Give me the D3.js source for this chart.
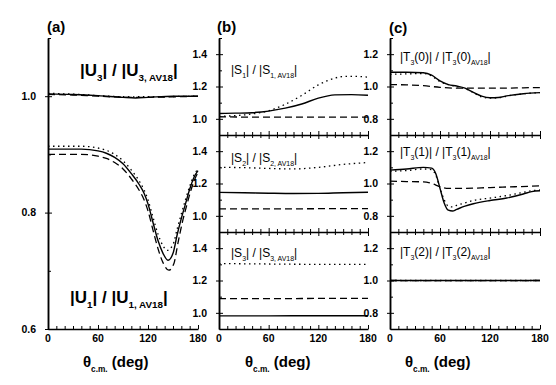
<!DOCTYPE html>
<html>
<head>
<meta charset="utf-8">
<script src="https://cdn.jsdelivr.net/npm/d3@7"></script>
<style>
  body { margin: 0; background: #fff; }
  text { font-family: "Liberation Sans", Arial, sans-serif; fill: #000; }
</style>
</head>
<body>
<div id="chart"></div>
<script>
// ---- data: [theta (deg), ratio] ----
var u3Solid = [[0,1.004],[30,1.003],[60,1.001],[90,0.998],[105,0.997],[120,0.998],[150,1.0],[180,1.0]];
var u3Dot   = [[0,1.005],[20,1.004],[40,1.003],[60,1.001],[100,0.999],[180,1.0]];
var u3Dash  = [[0,1.003],[30,1.002],[60,1.0],[100,0.998],[180,1.0]];

var u1Solid = [[0,0.909],[40,0.909],[60,0.906],[70,0.902],[80,0.895],[90,0.884],[100,0.867],[110,0.847],[115,0.834],[120,0.815],[126,0.783],[132,0.752],[138,0.730],[144,0.718],[150,0.730],[155,0.762],[160,0.790],[165,0.815],[170,0.840],[175,0.860],[180,0.872]];
var u1Dot   = [[0,0.914],[40,0.914],[60,0.911],[70,0.907],[80,0.900],[90,0.889],[100,0.873],[110,0.853],[115,0.840],[120,0.822],[126,0.792],[132,0.763],[138,0.743],[143,0.735],[150,0.745],[155,0.772],[160,0.798],[165,0.822],[170,0.845],[175,0.864],[180,0.875]];
var u1Dash  = [[0,0.900],[40,0.900],[60,0.897],[70,0.893],[80,0.886],[90,0.875],[100,0.858],[110,0.837],[115,0.823],[120,0.803],[126,0.770],[132,0.738],[138,0.714],[145,0.701],[151,0.712],[156,0.748],[161,0.782],[166,0.810],[171,0.836],[176,0.857],[180,0.869]];

var s1Solid = [[0,1.033],[20,1.035],[40,1.038],[60,1.048],[80,1.066],[100,1.092],[120,1.128],[140,1.148],[160,1.150],[180,1.146]];
var s1Dot   = [[0,1.015],[20,1.020],[40,1.030],[60,1.050],[80,1.090],[100,1.145],[120,1.210],[140,1.252],[150,1.262],[160,1.263],[180,1.258]];
var s1Dash  = [[0,1.013],[30,1.011],[60,1.010],[120,1.010],[180,1.010]];

var s2Solid = [[0,1.145],[30,1.143],[60,1.140],[90,1.138],[120,1.139],[150,1.143],[180,1.146]];
var s2Dot   = [[0,1.300],[30,1.298],[60,1.293],[90,1.290],[120,1.300],[150,1.318],[180,1.330]];
var s2Dash  = [[0,1.043],[60,1.043],[120,1.044],[180,1.045]];

var s3Solid = [[0,0.981],[60,0.981],[120,0.982],[180,0.982]];
var s3Dot   = [[0,1.305],[60,1.302],[120,1.300],[180,1.300]];
var s3Dash  = [[0,1.088],[60,1.088],[120,1.089],[180,1.090]];

var t0Solid = [[0,1.088],[20,1.088],[40,1.085],[50,1.070],[60,1.035],[70,1.012],[80,1.003],[90,0.990],[100,0.963],[110,0.940],[120,0.930],[130,0.932],[140,0.942],[160,0.955],[180,0.962]];
var t0Dot   = [[0,1.075],[20,1.078],[40,1.080],[50,1.065],[60,1.030],[70,1.012],[80,1.000],[90,0.988],[100,0.962],[110,0.935],[120,0.928],[130,0.930],[140,0.940],[160,0.955],[180,0.962]];
var t0Dash  = [[0,1.012],[20,1.010],[40,1.005],[60,0.995],[80,0.990],[100,0.990],[120,0.990],[140,0.990],[160,0.992],[180,0.993]];

var t1Solid = [[0,1.083],[20,1.090],[40,1.100],[50,1.095],[55,1.060],[60,0.970],[65,0.880],[70,0.835],[75,0.830],[80,0.840],[90,0.860],[100,0.875],[120,0.895],[140,0.910],[160,0.935],[170,0.950],[180,0.955]];
var t1Dot   = [[0,1.075],[20,1.080],[40,1.090],[50,1.085],[55,1.050],[60,0.970],[65,0.900],[70,0.860],[75,0.855],[80,0.865],[90,0.880],[100,0.895],[120,0.910],[140,0.925],[160,0.945],[170,0.955],[180,0.960]];
var t1Dash  = [[0,1.015],[20,1.012],[40,1.010],[50,1.000],[60,0.980],[70,0.970],[90,0.970],[120,0.975],[150,0.980],[180,0.985]];

var t2Solid = [[0,1.0],[90,1.0],[180,1.0]];
var t2Dot   = [[0,1.0],[90,1.0],[180,1.0]];
var t2Dash  = [[0,1.0],[90,0.999],[180,1.0]];

var xMajor = [0, 60, 120, 180];
var xMinor = d3.range(0, 181, 10);

var svg = d3.select("#chart")
    .append("svg")
        .attr("width", 556)
        .attr("height", 385);

// dash styles for the three models
var styles = {
    solid: null,
    dot: "1.5,3.5",
    dash: "7,4"
};

// helper: text with subscripts, parts = [[text, isSub], ...]
function richText(g, x, y, size, weight, parts, subScale) {
    var t = g.append("text")
        .attr("x", x).attr("y", y)
        .style("font-size", size + "px")
        .style("font-weight", weight);
    var cur = 0, shift = size * 0.32;
    parts.forEach(function(p) {
        var target = p[1] ? shift : 0;
        var ts = t.append("tspan").attr("dy", target - cur).text(p[0]);
        if (p[1]) ts.style("font-size", (size * (subScale || 0.58)) + "px");
        cur = target;
    });
    return t;
}

function drawCurves(g, x, y, sets) {
    var line = d3.line()
        .x(d => x(d[0]))
        .y(d => y(d[1]))
        .curve(d3.curveMonotoneX);
    sets.forEach(function(s) {
        g.append("path")
            .attr("d", line(s[0]))
            .attr("fill", "none")
            .attr("stroke", "#000")
            .attr("stroke-width", s[1] == "solid" ? 1.4 : 1.3)
            .attr("stroke-dasharray", styles[s[1]]);
    });
}

function yAxis(g, x0, y, major, minor, fmt) {
    var ax = g.append("g").attr("transform", "translate(" + x0 + ",0)");
    ax.call(d3.axisLeft(y).tickValues(major).tickSizeOuter(0).tickFormat(d3.format(fmt)).tickPadding(6));
    ax.selectAll(".tick line").attr("x1", -3).attr("x2", 4);
    ax.selectAll(".tick text").style("font-size", "10.5px").style("font-weight", "bold");
    var mn = g.append("g").attr("transform", "translate(" + x0 + ",0)");
    mn.call(d3.axisLeft(y).tickValues(minor).tickSizeOuter(0).tickFormat(""));
    mn.selectAll(".tick line").attr("x1", 0).attr("x2", 3);
    g.selectAll(".domain").attr("stroke-width", 1.5);
}

function xSeparator(g, x, y0, crossing) {
    var ax = g.append("g").attr("transform", "translate(0," + y0 + ")");
    ax.call(d3.axisBottom(x).tickValues(xMinor).tickSizeOuter(0).tickFormat(""));
    ax.selectAll(".tick line")
        .attr("y1", d => xMajor.indexOf(d) >= 0 ? (crossing ? 4 : 0) : (crossing ? 3 : 0))
        .attr("y2", d => xMajor.indexOf(d) >= 0 ? -4 : -3);
    ax.select(".domain").attr("stroke-width", 1.5);
    return ax;
}

function xLabels(g, x, y0) {
    g.selectAll(null).data(xMajor).enter().append("text")
        .attr("x", d => x(d))
        .attr("y", y0 + 13)
        .attr("text-anchor", "middle")
        .style("font-size", "10.5px")
        .style("font-weight", "bold")
        .text(d => d);
}

function axisTitle(g, x0, y0) {
    richText(g, x0, y0, 15, "bold", [["\u03b8", false], ["c.m.", true], [" (deg)", false]], 0.55);
}

var plotBottom = 329, plotTop = 38;
var subRanges = [[135, 38], [232, 135], [329, 232]];

// ---------------- panel (a) ----------------
var xa = d3.scaleLinear().domain([0, 180]).range([48, 198]);
var ya = d3.scaleLinear().domain([0.6, 1.1]).range([plotBottom, plotTop]);
var ga = svg.append("g");
drawCurves(ga, xa, ya, [[u3Dot, "dot"], [u3Dash, "dash"], [u3Solid, "solid"],
                        [u1Dot, "dot"], [u1Dash, "dash"], [u1Solid, "solid"]]);
yAxis(ga, 48, ya, [0.6, 0.8, 1.0], [0.7, 0.9, 1.1], ".1f");
xSeparator(ga, xa, plotBottom, false);
xLabels(ga, xa, plotBottom);
axisTitle(ga, 83, 367);
ga.append("text").attr("x", 47).attr("y", 32).style("font-size", "15px").style("font-weight", "bold").text("(a)");
richText(ga, 80, 76, 17, "bold", [["|U", false], ["3", true], ["| / |U", false], ["3, AV18", true], ["|", false]]);
richText(ga, 70, 303, 17, "bold", [["|U", false], ["1", true], ["| / |U", false], ["1, AV18", true], ["|", false]]);

// ---------------- panel (b) ----------------
var xb = d3.scaleLinear().domain([0, 180]).range([219, 368]);
var gb = svg.append("g");
var sSets = [
    [[s1Dot, "dot"], [s1Dash, "dash"], [s1Solid, "solid"]],
    [[s2Dot, "dot"], [s2Dash, "dash"], [s2Solid, "solid"]],
    [[s3Dot, "dot"], [s3Dash, "dash"], [s3Solid, "solid"]]
];
var sNames = ["1", "2", "3"];
var sLabelY = [74, 162, 257];
subRanges.forEach(function(r, i) {
    var y = d3.scaleLinear().domain([0.9, 1.5]).range(r);
    drawCurves(gb, xb, y, sSets[i]);
    yAxis(gb, 219, y, [1.0, 1.2, 1.4], [1.1, 1.3, 1.5].slice(0, i == 0 ? 3 : 2), ".1f");
    xSeparator(gb, xb, r[0], i < 2);
    richText(gb, 231, sLabelY[i], 12, "normal",
        [["|S", false], [sNames[i], true], ["| / |S", false], [sNames[i] + ", AV18", true], ["|", false]]);
});
xLabels(gb, xb, plotBottom);
axisTitle(gb, 245, 367);
gb.append("text").attr("x", 217).attr("y", 32).style("font-size", "15px").style("font-weight", "bold").text("(b)");

// ---------------- panel (c) ----------------
var xc = d3.scaleLinear().domain([0, 180]).range([390, 540]);
var gc = svg.append("g");
var tSets = [
    [[t0Dot, "dot"], [t0Dash, "dash"], [t0Solid, "solid"]],
    [[t1Dot, "dot"], [t1Dash, "dash"], [t1Solid, "solid"]],
    [[t2Dot, "dot"], [t2Dash, "dash"], [t2Solid, "solid"]]
];
var tNames = ["0", "1", "2"];
var tLabelY = [61, 156, 256];
subRanges.forEach(function(r, i) {
    var y = d3.scaleLinear().domain([0.7, 1.3]).range(r);
    drawCurves(gc, xc, y, tSets[i]);
    yAxis(gc, 390, y, [0.8, 1.0, 1.2], [0.9, 1.1, 1.3].slice(0, i == 0 ? 3 : 2), ".1f");
    xSeparator(gc, xc, r[0], i < 2);
    richText(gc, 400, tLabelY[i], 12, "normal",
        [["|T", false], ["3", true], ["(" + tNames[i] + ")| / |T", false], ["3", true],
         ["(" + tNames[i] + ")", false], ["AV18", true], ["|", false]]);
});
xLabels(gc, xc, plotBottom);
axisTitle(gc, 405, 367);
gc.append("text").attr("x", 389).attr("y", 33).style("font-size", "15px").style("font-weight", "bold").text("(c)");
</script>
</body>
</html>
